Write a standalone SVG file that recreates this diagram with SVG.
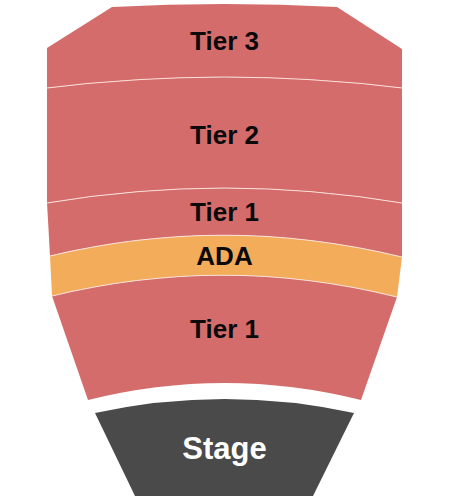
<svg xmlns="http://www.w3.org/2000/svg" width="450" height="500" viewBox="0 0 450 500">
<style>
.sec{fill:#D46C6C}
.ada{fill:#F2AC5A}
.stage{fill:#4A4A4A}
.div{fill:none;stroke:#F8E0D8;stroke-width:1.2}
.lbl{font-family:"Liberation Sans",Arial,sans-serif;font-weight:bold;font-size:26px;fill:#0A0A0A;text-anchor:middle}
.slbl{font-family:"Liberation Sans",Arial,sans-serif;font-weight:bold;font-size:31px;fill:#fff;text-anchor:middle}
</style>
<rect width="450" height="500" fill="#fff"/>
<g id="tier3">
<path class="sec" d="M47,48 L112,7 Q224.5,1 337,7 L402,49 L402,88 Q224.5,66 47,88 Z"/>
<text class="lbl" x="224.5" y="50">Tier 3</text>
</g>
<g id="tier2">
<path class="sec" d="M47,88 Q224.5,66 402,88 L402,203 Q224.5,173 47,203 Z"/>
<text class="lbl" x="224.5" y="144">Tier 2</text>
</g>
<g id="tier1-upper">
<path class="sec" d="M47,203 Q224.5,173 402,203 L402,257 Q224.5,214 50,256 L48,220 Z"/>
<text class="lbl" x="224.5" y="221">Tier 1</text>
</g>
<g id="ada">
<path class="ada" d="M50,256 Q224.5,214 402,257 L397,297 Q224.5,254 52,296 Z"/>
<text class="lbl" x="224.5" y="265">ADA</text>
</g>
<g id="tier1-lower">
<path class="sec" d="M52,296 Q224.5,254 397,297 L361,400 Q224.5,366 88,400 Z"/>
<text class="lbl" x="224.5" y="338">Tier 1</text>
</g>
<g id="stage">
<path class="stage" d="M95,413 Q224.5,385 354,413 L313,496 L135,496 Z"/>
<text class="slbl" x="224.5" y="459">Stage</text>
</g>
<g id="dividers">
<path class="div" d="M47,88 Q224.5,66 402,88"/>
<path class="div" d="M47,203 Q224.5,173 402,203"/>
<path class="div" d="M50,256 Q224.5,214 402,257"/>
<path class="div" d="M52,296 Q224.5,254 397,297"/>
</g>
</svg>
